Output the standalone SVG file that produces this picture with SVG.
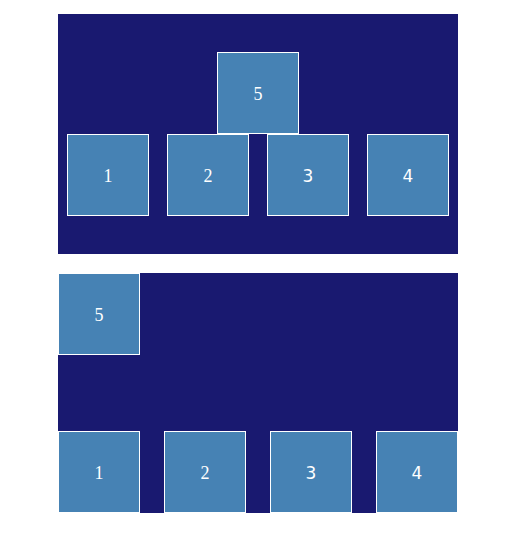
<svg xmlns="http://www.w3.org/2000/svg" width="508" height="552" viewBox="0 0 508 552">
<style>
.panel{fill:#191970}
.box{fill:#4682B4;stroke:#ffffff;stroke-width:1}
.lbl{fill:#ffffff;text-anchor:middle}
</style>
<rect width="508" height="552" fill="#ffffff"/>
<g id="panel-top">
<rect class="panel" x="58" y="14" width="400" height="240"/>
</g>
<g id="top-node-5"><rect class="box" x="217.5" y="52.5" width="81" height="81"/><text class="lbl" font-family="Liberation Serif, serif" font-size="18" x="258" y="100">5</text></g>
<g id="top-node-1"><rect class="box" x="67.5" y="134.5" width="81" height="81"/><text class="lbl" font-family="Liberation Serif, serif" font-size="18" x="108" y="182">1</text></g>
<g id="top-node-2"><rect class="box" x="167.5" y="134.5" width="81" height="81"/><text class="lbl" font-family="Liberation Serif, serif" font-size="18" x="208" y="182">2</text></g>
<g id="top-node-3"><rect class="box" x="267.5" y="134.5" width="81" height="81"/><text class="lbl" font-family="DejaVu Sans, sans-serif" font-size="17" x="308" y="182">3</text></g>
<g id="top-node-4"><rect class="box" x="367.5" y="134.5" width="81" height="81"/><text class="lbl" font-family="DejaVu Sans, sans-serif" font-size="17" x="408" y="182">4</text></g>
<g id="panel-bottom">
<rect class="panel" x="58" y="273" width="400" height="240"/>
</g>
<g id="bottom-node-5"><rect class="box" x="58.5" y="273.5" width="81" height="81"/><text class="lbl" font-family="Liberation Serif, serif" font-size="18" x="99" y="321">5</text></g>
<g id="bottom-node-1"><rect class="box" x="58.5" y="431.5" width="81" height="81"/><text class="lbl" font-family="Liberation Serif, serif" font-size="18" x="99" y="479">1</text></g>
<g id="bottom-node-2"><rect class="box" x="164.5" y="431.5" width="81" height="81"/><text class="lbl" font-family="Liberation Serif, serif" font-size="18" x="205" y="479">2</text></g>
<g id="bottom-node-3"><rect class="box" x="270.5" y="431.5" width="81" height="81"/><text class="lbl" font-family="DejaVu Sans, sans-serif" font-size="17" x="311" y="479">3</text></g>
<g id="bottom-node-4"><rect class="box" x="376.5" y="431.5" width="81" height="81"/><text class="lbl" font-family="DejaVu Sans, sans-serif" font-size="17" x="417" y="479">4</text></g>
<g id="connectors"></g>
</svg>
